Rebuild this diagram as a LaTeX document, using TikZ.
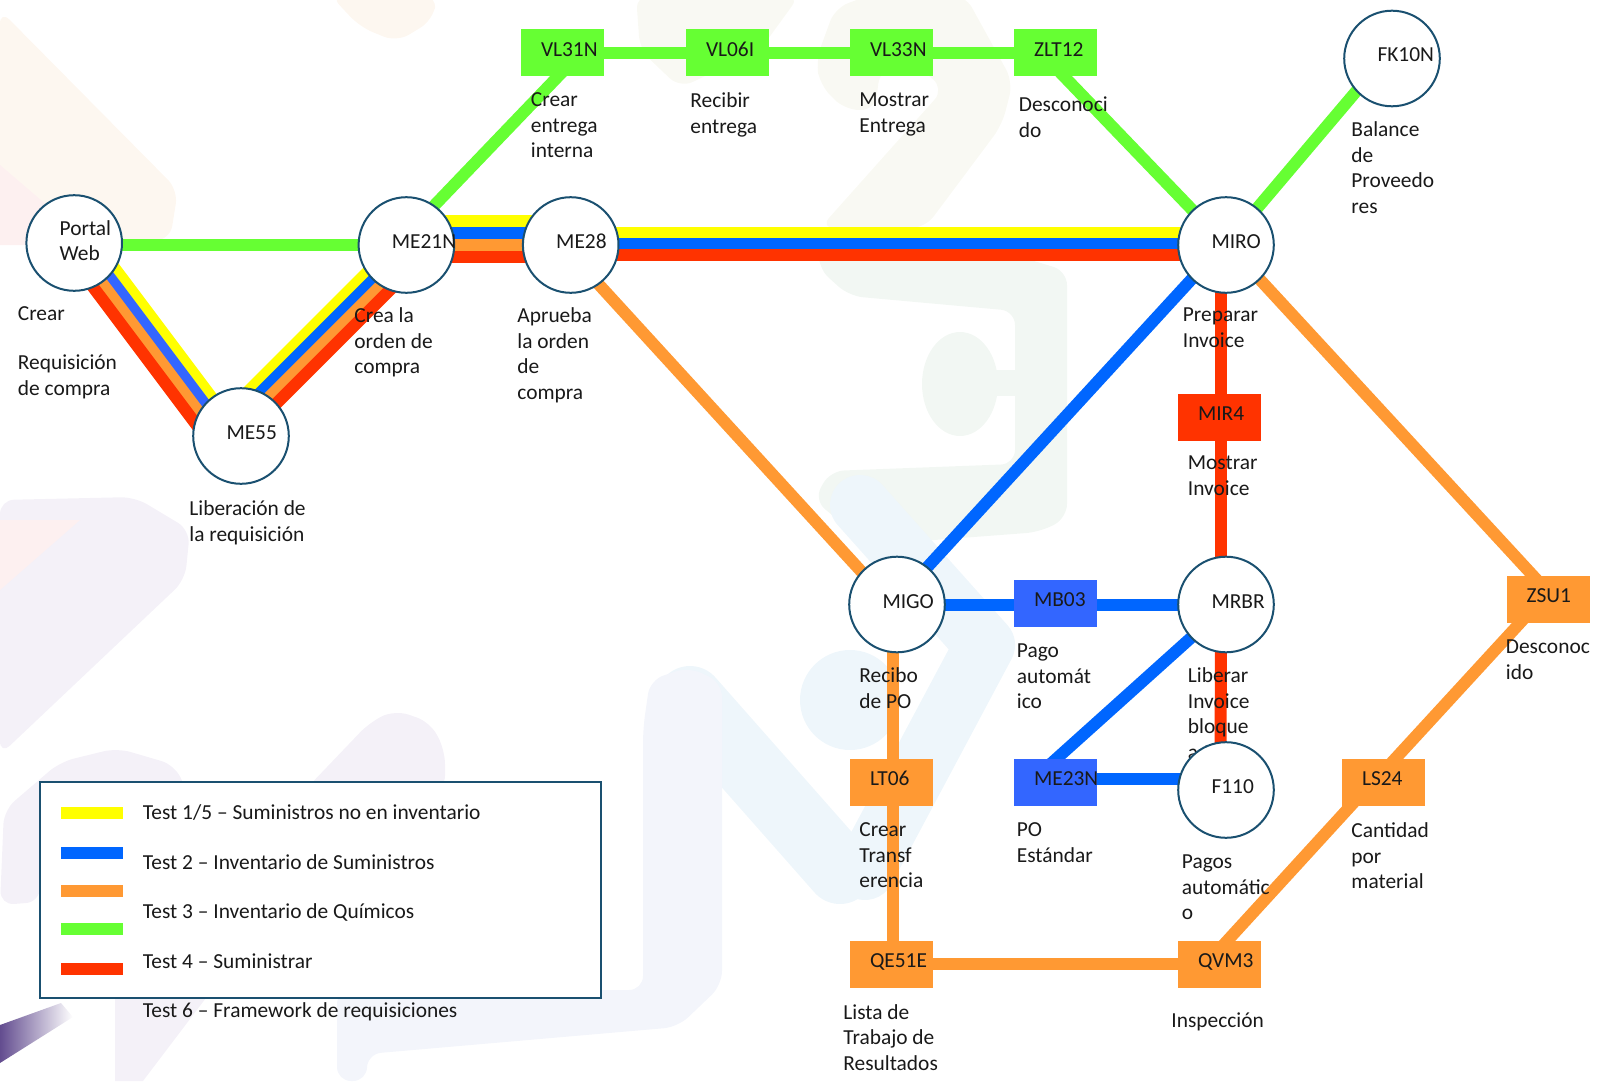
\documentclass[tikz,border=0pt]{standalone}
\usepackage{fontspec}
\setmainfont{Carlito}
\usetikzlibrary{positioning,calc,backgrounds}
\definecolor{lineyellow}{HTML}{FFFF00}
\definecolor{lineblue}{HTML}{0066FF}
\definecolor{lineorange}{HTML}{FF9933}
\definecolor{linegreen}{HTML}{66FF33}
\definecolor{linered}{HTML}{FF3300}
\definecolor{boxblue}{HTML}{3366FF}
\definecolor{ringteal}{HTML}{1A5070}
\definecolor{wcream}{HTML}{FDF7F0}
\definecolor{wpink}{HTML}{FDF0F0}
\definecolor{wolive}{HTML}{F9F9F3}
\definecolor{wmint}{HTML}{F2F7F3}
\definecolor{wsky}{HTML}{EEF6FB}
\definecolor{wviolet}{HTML}{F4F1F8}
\definecolor{wslate}{HTML}{F3F5FB}
\tikzset{
    txt/.style={font=\fontsize{10.7}{12.75}\selectfont,text=black!90},
    station/.style={txt,circle,draw=ringteal,fill=white,line width=1pt,minimum size=47.8pt,inner sep=0pt,text width=14.5pt,align=left,text height=7pt,text depth=3.5pt},
    stop/.style={txt,rectangle,minimum width=41.5pt,minimum height=23.5pt,inner sep=0pt,text width=21.5pt,align=left,text height=7pt,text depth=3.5pt},
    stopgreen/.style={stop,fill=linegreen},
    stopred/.style={stop,fill=linered},
    stopblue/.style={stop,fill=boxblue},
    stoporange/.style={stop,fill=lineorange},
    lbl/.style={txt,anchor=north west,inner sep=0pt,align=left,yshift=0.5pt},
    track/.style={line width=6pt},
    wband/.style={line cap=round,line join=round},
    wshape/.style={rounded corners=7pt}
}
\begin{document}
\begin{tikzpicture}[x=0.5pt,y=-0.5pt]
    \useasboundingbox (0,0) rectangle (1605,1081);

    % Stations
    \node[station,text depth=14.7pt] (portal) at (74.2,243) {Portal\\Web};
    \node[station] (me21n) at (406.4,245) {ME21N};
    \node[station] (me28) at (570.7,245) {ME28};
    \node[station] (miro) at (1226,245) {MIRO};
    \node[station] (me55) at (241,436) {ME55};
    \node[station] (fk10n) at (1392,58.5) {FK10N};
    \node[station] (migo) at (897,604.5) {MIGO};
    \node[station] (mrbr) at (1226,604.5) {MRBR};
    \node[lbl] (lblmrbr) at (1187.5,668.5) {Liberar\\Invoice\\bloque\\a t};
    \node[station] (f110) at (1226,790) {F110};

    % Stops
    \node[stopgreen] (vl31n) at (562.5,53) {VL31N};
    \node[stopgreen] (vl06i) at (727.5,53) {VL06I};
    \node[stopgreen] (vl33n) at (891.5,53) {VL33N};
    \node[stopgreen] (zlt12) at (1055.5,53) {ZLT12};
    \node[stopred] (mir4) at (1219.5,417) {MIR4};
    \node[stopblue] (mb03) at (1055.5,603) {MB03};
    \node[stopblue] (me23n) at (1055.5,782) {ME23N};
    \node[stoporange] (lt06) at (891.5,782) {LT06};
    \node[stoporange] (qe51e) at (891.5,964) {QE51E};
    \node[stoporange] (qvm3) at (1219.5,964) {QVM3};
    \node[stoporange] (ls24) at (1383.5,782) {LS24};
    \node[stoporange] (zsu1) at (1548,599) {ZSU1};

    \begin{pgfonlayer}{background}
        % Faint logo behind everything
        \fill[wcream,wshape] (0,10) -- (178,190) -- (170,240) -- (0,245) -- cycle;
        \fill[wpink] (0,165) -- (70,225) -- (40,245) -- (0,245) -- cycle;
        \fill[wcream,wshape] (330,-5) -- (360,27) -- (397,42) -- (433,20) -- (437,-5) -- cycle;
        \fill[wolive,wshape] (636,-5) -- (640,50) -- (680,88) -- (760,50) -- (800,-5) -- cycle;
        \fill[wolive,wshape] (816,60) -- (835,8) -- (870,-5) -- (965,-5) -- (1013,82) -- (1002,125) -- (925,228) -- (820,228) -- (944,89) -- (905,55) -- (880,70) -- (875,110) -- (845,110) -- (820,85) -- cycle;
        \fill[wmint,wshape] (820,228) -- (925,228) -- (1067,271) -- (1067,518) -- (1040,532) -- (868,545) -- (814,500) -- (830,471) -- (1015,464) -- (1015,311) -- (849,296) -- (818,268) -- cycle;
        \fill[wmint] (960,384) ellipse [x radius=38,y radius=52];
        \fill[wmint] (985,370) rectangle (1015,396);
        \draw[wband,wsky,line width=30pt] (860,505) -- (985,645) -- (865,870);
        \draw[wband,wsky,line width=34pt] (690,700) -- (840,870);
        \fill[wsky] (850,700) circle [radius=50];
        \fill[wviolet,wshape] (0,500) -- (135,497) -- (190,530) -- (185,580) -- (0,755) -- cycle;
        \fill[wpink] (0,520) -- (80,520) -- (0,590) -- cycle;
        \fill[wviolet,wshape] (0,905) -- (4,810) -- (60,762) -- (117,748) -- (175,765) -- (195,810) -- (100,810) -- (40,860) -- (40,902) -- cycle;
        \fill[wviolet] (115,1081) -- (115,990) -- (212,990) -- (143,1081) -- cycle;
        \fill[wviolet,wshape] (305,790) -- (370,722) -- (395,710) -- (430,722) -- (445,750) -- (445,790) -- cycle;
        \fill[wslate,wshape] (337,1081) -- (337,990) -- (643,990) -- (643,729) -- (650,680) -- (689,667) -- (722,683) -- (722,985) -- (678,1027) -- (367,1054) -- (367,1081) -- cycle;
        \shade[left color=violet!50!blue!50!black!70,right color=white] (0,1025) -- (61,1003) -- (73,1017) -- (0,1063) -- cycle;

        % Bundle Portal to ME55
        \draw[track,lineyellow] ([shift={(24.4,3.9)}]portal.center) -- ([shift={(-5,-6)}]me55.center);
        \draw[track,boxblue] ([shift={(16.8,9.6)}]portal.center) -- ([shift={(-12.6,-0.3)}]me55.center);
        \draw[track,lineorange] ([shift={(9.2,15.3)}]portal.center) -- ([shift={(-20.2,5.4)}]me55.center);
        \draw[track,linered] ([shift={(1.6,21)}]portal.center) -- ([shift={(-27.8,11.1)}]me55.center);

        % Bundle ME21N to ME55
        \draw[track,lineyellow] ([shift={(-29.3,17.5)}]me21n.center) -- ([shift={(-8.9,-28.5)}]me55.center);
        \draw[track,lineblue] ([shift={(-22.6,24.2)}]me21n.center) -- ([shift={(-2.2,-21.8)}]me55.center);
        \draw[track,lineorange] ([shift={(-15.9,30.9)}]me21n.center) -- ([shift={(4.5,-15.1)}]me55.center);
        \draw[track,linered] ([shift={(-9.2,37.6)}]me21n.center) -- ([shift={(11.2,-8.4)}]me55.center);

        % Bundle ME21N to ME28
        \draw[track,lineyellow] ([shift={(0,-24)}]me21n.center) -- ([shift={(0,-24)}]me28.center);
        \draw[track,lineblue] ([shift={(0,-12)}]me21n.center) -- ([shift={(0,-12)}]me28.center);
        \draw[track,lineorange] (me21n.center) -- (me28.center);
        \draw[track,linered] ([shift={(0,12)}]me21n.center) -- ([shift={(0,12)}]me28.center);

        % Bundle ME28 to MIRO
        \draw[track,lineyellow] ([shift={(0,-12)}]me28.center) -- ([shift={(0,-12)}]miro.center);
        \draw[track,lineblue] ([shift={(0,-1)}]me28.center) -- ([shift={(0,-1)}]miro.center);
        \draw[track,linered] ([shift={(0,10)}]me28.center) -- ([shift={(0,10)}]miro.center);

        % Green line
        \draw[track,linegreen] (portal.center |- me21n.center) -- (me21n.center);
        \draw[track,linegreen] ([shift={(-10,0)}]me21n.center) -- ([shift={(18,0)}]vl31n.center);
        \draw[track,linegreen] (vl31n.center) -- (vl06i.center);
        \draw[track,linegreen] (vl06i.center) -- (vl33n.center);
        \draw[track,linegreen] (vl33n.center) -- (zlt12.center);
        \draw[track,linegreen] ([shift={(-14,0)}]zlt12.center) -- (miro.center);
        \draw[track,linegreen] (miro.center) -- ([shift={(-8,0)}]fk10n.center);

        % Orange line
        \draw[track,lineorange] ([shift={(-8,0)}]me28.center) -- ([shift={(-5.5,0)}]migo.center);
        \draw[track,lineorange] ([shift={(2,0)}]miro.center) -- ([shift={(6.5,0)}]zsu1.center);
        \draw[track,lineorange] ([shift={(-4,0)}]migo.center) -- ([shift={(1.5,0)}]lt06.center);
        \draw[track,lineorange] ([shift={(1.5,0)}]lt06.center) -- ([shift={(1.5,0)}]qe51e.center);
        \draw[track,lineorange] (qe51e.center) -- (qvm3.center);
        \draw[track,lineorange] ([shift={(-13.5,0)}]qvm3.center) -- ([shift={(-11,0)}]ls24.center);
        \draw[track,lineorange] ([shift={(-9.7,0)}]ls24.center) -- ([shift={(-6,0)}]zsu1.center);

        % Blue line
        \draw[track,lineblue] ([shift={(-3,0)}]miro.center) -- ([shift={(-4,0)}]migo.center);
        \draw[track,lineblue] (migo.center) -- ([shift={(0,1.5)}]mb03.center);
        \draw[track,lineblue] ([shift={(0,1.5)}]mb03.center) -- (mrbr.center);
        \draw[track,lineblue] ([shift={(2,0)}]mrbr.center) -- ([shift={(-25,0)}]me23n.center);
        \draw[track,lineblue] ([shift={(0,-3)}]me23n.center) -- ([shift={(0,-11)}]f110.center);

        % Red line
        \draw[track,linered] ([shift={(-5,0)}]miro.center) -- ([shift={(1.5,0)}]mir4.center);
        \draw[track,linered] ([shift={(1.5,0)}]mir4.center) -- ([shift={(-5,0)}]mrbr.center);
        \draw[track,linered] ([shift={(-5,0)}]mrbr.center) -- ([shift={(-5.5,0)}]f110.center);
    \end{pgfonlayer}

    % Labels
    \node[lbl] (lblportal) at (17.5,307) {Crear\\[12pt]Requisición\\de compra};
    \node[lbl] (lblme21n) at (354,308.5) {Crea la\\orden de\\compra};
    \node[lbl] (lblme28) at (517,308.5) {Aprueba\\la orden\\de\\compra};
    \node[lbl] (lblme55) at (189,501.5) {Liberación de\\la requisición};
    \node[lbl] (lblvl31n) at (530.5,93.5) {Crear\\entrega\\interna};
    \node[lbl] (lblvl06i) at (690,93.5) {Recibir\\entrega};
    \node[lbl] (lblvl33n) at (859,93.5) {Mostrar\\Entrega};
    \node[lbl] (lblzlt12) at (1018.5,97.5) {Desconoci\\do};
    \node[lbl] (lblfk10n) at (1351,122.5) {Balance\\de\\Proveedo\\res};
    \node[lbl] (lblmiro) at (1182.5,308.5) {Preparar\\Invoice};
    \node[lbl] (lblmir4) at (1187.5,456.5) {Mostrar\\Invoice};
    \node[lbl] (lblmigo) at (859,668.5) {Recibo\\de PO};
    \node[lbl] (lblmb03) at (1016.5,644.5) {Pago\\automát\\ico};
    \node[lbl] (lblzsu1) at (1505.5,640.5) {Desconoc\\ido};
    \node[lbl] (lbllt06) at (859,823.5) {Crear\\Transf\\erencia};
    \node[lbl] (lblme23n) at (1016.5,823.5) {PO\\Estándar};
    \node[lbl] (lblls24) at (1351,823.5) {Cantidad\\por\\material};
    \node[lbl] (lblqe51e) at (843,1005) {Lista de\\Trabajo de\\Resultados};
    \node[lbl] (lblqvm3) at (1171,1013.5) {Inspección};
    \node[lbl] (lblf110) at (1181.5,855.5) {Pagos\\automátic\\o};

    % Legend
    \node[draw=ringteal,fill=white,line width=1pt,minimum width=280.5pt,minimum height=108pt,inner sep=0pt] (legendbox) at (320,890) {};
    \foreach \y/\col in {807/lineyellow,847/lineblue,885/lineorange,923/linegreen,963/linered} {
        \fill[\col] (60.5,\y) rectangle (122.5,\y+12);
    }
    \node[lbl] (legend1) at (142.5,805) {Test 1/5 -- Suministros no en inventario};
    \node[lbl] (legend2) at (142.5,855) {Test 2 -- Inventario de Suministros};
    \node[lbl] (legend3) at (142.5,904) {Test 3 -- Inventario de Químicos};
    \node[lbl] (legend4) at (142.5,954) {Test 4 -- Suministrar};
    \node[lbl] (legend6) at (142.5,1003) {Test 6 -- Framework de requisiciones};
\end{tikzpicture}
\end{document}
